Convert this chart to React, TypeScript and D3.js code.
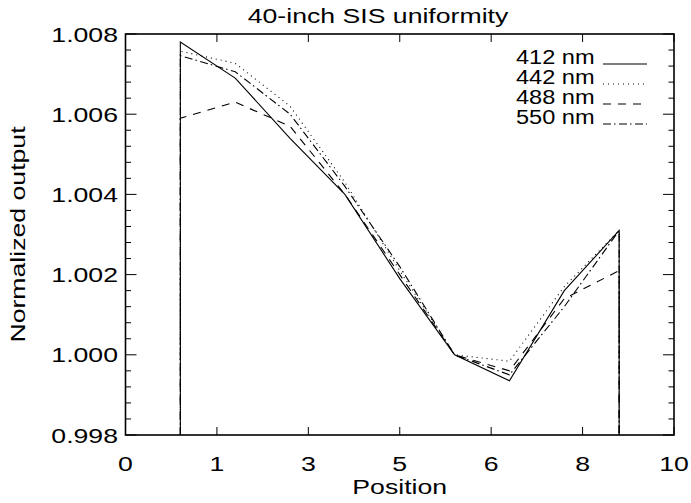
import * as d3 from "d3";

// positions along the source (x = 1..9)
const positions = [1, 2, 3, 4, 5, 6, 7, 8, 9];

const nm412 = [1.0078, 1.0069, 1.0054, 1.004, 1.0019, 1.0, 0.99935, 1.0016, 1.0031];
const nm442 = [1.00757, 1.00727, 1.0062, 1.0043, 1.0021, 1.0, 0.99984, 1.0017, 1.0031];
const nm488 = [1.0059, 1.0063, 1.0057, 1.004, 1.002, 1.0, 0.9996, 1.0014, 1.0021];
const nm550 = [1.00746, 1.00706, 1.006, 1.0042, 1.0022, 1.0, 0.9995, 1.0012, 1.0031];

const seriesNames = ["412 nm", "442 nm", "488 nm", "550 nm"];
const seriesValues = [nm412, nm442, nm488, nm550];
const seriesDash = ["none", "1,4", "8,7", "8,3,1.5,3.5"];

// IDL style labels: 7 evenly spaced ticks, integer-truncated
const xTickLabels = ["0", "1", "3", "5", "6", "8", "10"];
const yMajorTicks = [0.998, 1.0, 1.002, 1.004, 1.006, 1.008];

const W = 691;
const H = 503;
const left = 125.5;
const right = 674;
const top = 34;
const bottom = 435;

const FONT = "'Liberation Sans', Arial, Helvetica, sans-serif";
const FS = 20.5;
const SX = 1.3;

const Label = ({x, y, anchor = "middle", rot = 0, sx = SX, size = FS, children}: any) => (
  <text
    transform={`translate(${x},${y}) rotate(${rot}) scale(${sx},1)`}
    textAnchor={anchor}
    fontFamily={FONT}
    fontSize={size}
    fill="#000"
  >
    {children}
  </text>
);

export default function App() {
  const x = d3.scaleLinear().domain([0, 10]).range([left, right]);
  const y = d3.scaleLinear().domain([0.998, 1.008]).range([bottom, top]);

  const xTicks = xTickLabels.map((_, i) => (i * 10) / (xTickLabels.length - 1));
  const yMinor = d3.range(0.998, 1.00801, 0.0004).filter(
    (v) => !yMajorTicks.some((m) => Math.abs(m - v) < 1e-7)
  );

  const line = d3
    .line<[number, number]>()
    .x((d) => x(d[0]))
    .y((d) => y(d[1]));

  const yMin = y.domain()[0];

  return (
    <svg width={W} height={H} style={{position: "absolute", left: 0, top: 0, background: "#fff"}}>
      <rect width={W} height={H} fill="#fff" />

      {/* data curves, dropping to the axis at both ends */}
      <g fill="none" stroke="#000" strokeWidth={1.1}>
        {seriesValues.map((vals, i) => {
          const pts: [number, number][] = [
            [positions[0], yMin],
            ...positions.map((p, j) => [p, vals[j]] as [number, number]),
            [positions[positions.length - 1], yMin],
          ];
          return (
            <path
              key={seriesNames[i]}
              d={line(pts) || ""}
              strokeDasharray={seriesDash[i]}
            />
          );
        })}
      </g>

      {/* axes box */}
      <rect
        x={left}
        y={top}
        width={right - left}
        height={bottom - top}
        fill="none"
        stroke="#000"
        strokeWidth={1.6}
      />

      {/* x ticks bottom and top */}
      <g stroke="#000" strokeWidth={1}>
        {xTicks.map((t, i) => (
          <g key={i}>
            <line x1={x(t)} x2={x(t)} y1={bottom} y2={bottom - 8} />
            <line x1={x(t)} x2={x(t)} y1={top} y2={top + 8} />
          </g>
        ))}
        {yMajorTicks.map((t) => (
          <g key={t}>
            <line x1={left} x2={left + 11} y1={y(t)} y2={y(t)} />
            <line x1={right} x2={right - 11} y1={y(t)} y2={y(t)} />
          </g>
        ))}
        {yMinor.map((t) => (
          <g key={t}>
            <line x1={left} x2={left + 5.5} y1={y(t)} y2={y(t)} />
            <line x1={right} x2={right - 5.5} y1={y(t)} y2={y(t)} />
          </g>
        ))}
      </g>

      {/* tick labels */}
      {xTicks.map((t, i) => (
        <Label key={i} x={x(t)} y={471}>
          {xTickLabels[i]}
        </Label>
      ))}
      {yMajorTicks.map((t) => (
        <Label key={t} x={118} y={y(t) + 7.5} anchor="end">
          {d3.format(".3f")(t)}
        </Label>
      ))}

      {/* titles */}
      <Label x={378} y={23}>40-inch SIS uniformity</Label>
      <Label x={(left + right) / 2} y={494}>Position</Label>
      <Label x={25} y={(top + bottom) / 2} rot={-90}>Normalized output</Label>

      {/* legend */}
      {seriesNames.map((name, i) => {
        const ly = 64 + i * 20;
        return (
          <g key={name}>
            <Label x={516} y={ly} anchor="start" sx={1.15}>
              {name}
            </Label>
            <line
              x1={603}
              x2={647}
              y1={ly}
              y2={ly}
              stroke="#000"
              strokeWidth={1.1}
              strokeDasharray={seriesDash[i]}
            />
          </g>
        );
      })}
    </svg>
  );
}
